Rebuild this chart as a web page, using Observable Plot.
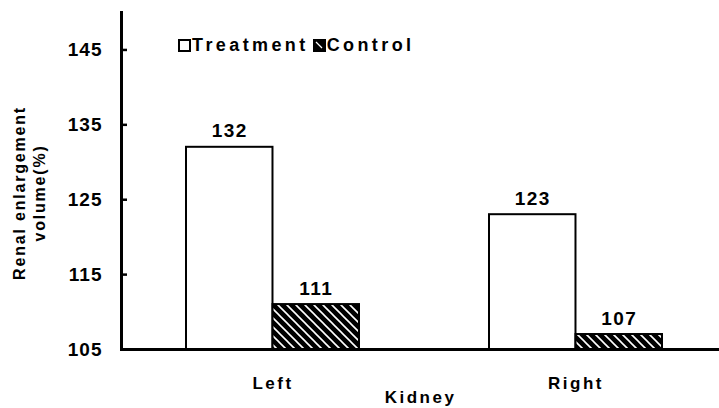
<!DOCTYPE html>
<html>
<head>
<meta charset="utf-8">
<script src="https://cdn.jsdelivr.net/npm/d3@7"></script>
<script src="https://cdn.jsdelivr.net/npm/@observablehq/plot@0.6"></script>
<style>
  html, body { margin: 0; padding: 0; background: #fff; }
  #wrap { position: relative; width: 719px; height: 408px; }
  svg text { font-family: "Liberation Sans", Arial, sans-serif; font-weight: bold; }
  g[aria-label="y-axis tick label"] text { letter-spacing: 1px; }
  g[aria-label="x-axis tick label"] text, g[aria-label="x-axis label"] text { letter-spacing: 2.5px; }
  g[aria-label="text"] text { letter-spacing: 1.5px; }
  #legend { position: absolute; left: 178px; top: 35px; display: flex; align-items: center;
    font-family: "Liberation Sans", Arial, sans-serif; font-weight: bold; font-size: 18px; letter-spacing: 3.4px; color: #000; }
  #legend svg { display: block; margin-right: 1px; }
  #legend svg.second { margin-left: 4px; }
  #ytitle { position: absolute; left: 30px; top: 193px; width: 0; height: 0; }
  #ytitle div { position: absolute; transform: translate(-50%, -50%) rotate(-90deg); white-space: pre; text-align: center;
    font-family: "Liberation Sans", Arial, sans-serif; font-weight: bold; font-size: 16px; line-height: 20px; letter-spacing: 1.8px; color: #000; }
</style>
</head>
<body>
<div id="wrap"></div>
<script>
const kidneys = ["Left", "Right"];
const treatment = [132, 123];
const control = [111, 107];
const yTicks = [105, 115, 125, 135, 145];
const seriesNames = ["Treatment", "Control"];
const yTitle = "Renal enlargement\nvolume(%)";
const xTitle = "Kidney";

const data = kidneys.map((k, i) => ({kidney: k, treatment: treatment[i], control: control[i]}));

const W = 719, H = 408, mL = 121, mR = 0, mT = 12, mB = 59;
const pIn = 0.43, pOut = 0.2;
const step = (W - mL - mR) / (kidneys.length - pIn + 2 * pOut);
const bw = step * (1 - pIn);

const chart = Plot.plot({
  width: W, height: H,
  marginLeft: mL, marginRight: mR, marginTop: mT, marginBottom: mB,
  x: {domain: kidneys, paddingInner: pIn, paddingOuter: pOut, align: 0.53, label: null},
  y: {domain: [105, 150], label: null},
  marks: [
    Plot.barY(data, {x: "kidney", y1: 105, y2: "treatment", fill: "white", stroke: "black", strokeWidth: 2, insetRight: bw / 2}),
    Plot.barY(data, {x: "kidney", y1: 105, y2: "control", fill: "url(#hatch)", stroke: "black", strokeWidth: 2, insetLeft: bw / 2}),
    Plot.text(data, {x: "kidney", y: "treatment", text: d => String(d.treatment), dx: -bw / 4, dy: -16, fontSize: 19}),
    Plot.text(data, {x: "kidney", y: "control", text: d => String(d.control), dx: bw / 4, dy: -16, fontSize: 19}),
    Plot.axisY({ticks: yTicks, tickSize: -6, tickPadding: 25, strokeWidth: 2.5, fontSize: 19, label: null}),
    Plot.axisX({tickSize: 0, tickPadding: 27, fontSize: 17, label: xTitle, labelAnchor: "center", labelOffset: 53}),
    Plot.ruleY([105], {strokeWidth: 3}),
    Plot.frame({anchor: "left", strokeWidth: 3})
  ]
});

const svg = d3.select(chart);
const defs = svg.insert("defs", ":first-child");
const pat = defs.append("pattern").attr("id", "hatch").attr("patternUnits", "userSpaceOnUse")
  .attr("width", 9).attr("height", 9);
pat.append("rect").attr("width", 9).attr("height", 9).attr("fill", "black");
pat.append("path").attr("d", "M0,0L9,9M-4.5,4.5L4.5,13.5M4.5,-4.5L13.5,4.5")
  .attr("stroke", "white").attr("stroke-width", 1.6);

const wrap = document.getElementById("wrap");
wrap.appendChild(chart);

const yt = document.createElement("div");
yt.id = "ytitle";
const ytInner = document.createElement("div");
ytInner.textContent = yTitle;
yt.appendChild(ytInner);
wrap.appendChild(yt);

const legend = document.createElement("div");
legend.id = "legend";
function sw(hatched) {
  const s = d3.create("svg").attr("width", 13).attr("height", 13).attr("class", hatched ? "second" : "first");
  s.append("rect").attr("x", 1).attr("y", 1).attr("width", 11).attr("height", 11)
    .attr("fill", hatched ? "black" : "white").attr("stroke", "black").attr("stroke-width", 2);
  if (hatched) s.append("path").attr("d", "M3,3L9,9").attr("stroke", "white").attr("stroke-width", 1.3);
  return s.node();
}
seriesNames.forEach((name, i) => {
  legend.appendChild(sw(i === 1));
  const t = document.createElement("span");
  t.textContent = name;
  legend.appendChild(t);
});
wrap.appendChild(legend);
</script>
</body>
</html>
